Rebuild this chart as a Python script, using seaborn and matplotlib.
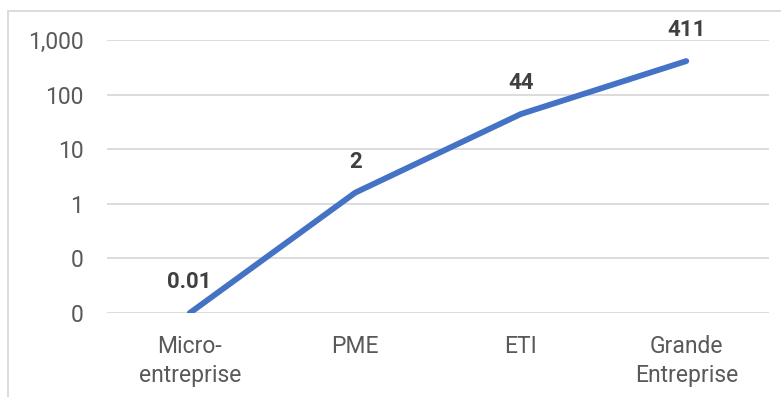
import matplotlib
matplotlib.use("Agg")
import matplotlib.pyplot as plt
import matplotlib.ticker as mticker
from matplotlib.patches import Rectangle
import seaborn as sns
import pandas as pd

categories = ["Micro-\nentreprise", "PME", "ETI", "Grande\nEntreprise"]
values = [0.01, 1.6, 44, 411]
value_labels = ["0.01", "2", "44", "411"]
y_ticks = [0.01, 0.1, 1, 10, 100, 1000]

sns.set_theme(style="white")
plt.rcParams["font.family"] = ["Roboto", "DejaVu Sans"]

df = pd.DataFrame({"cat": categories, "val": values})

fig = plt.figure(figsize=(7.81, 3.97), dpi=100)
ax = fig.add_axes([107 / 781, 1 - 313 / 397, (769 - 107) / 781, (313 - 40) / 397])

sns.lineplot(data=df, x="cat", y="val", ax=ax, sort=False, color="#4472C4",
             linewidth=4.2, solid_capstyle="round", solid_joinstyle="round")

ax.set_yscale("log")
ax.set_ylim(0.01, 1000)
ax.set_xlim(-0.5, len(categories) - 0.5)
ax.set_yticks(y_ticks)
ax.yaxis.set_major_formatter(mticker.FuncFormatter(lambda v, p: f"{v:,.0f}"))
ax.yaxis.set_minor_locator(mticker.NullLocator())
ax.grid(axis="y", color="#d9d9d9", linewidth=1.3)
ax.grid(axis="x", visible=False)
for s in ax.spines.values():
    s.set_visible(False)
ax.tick_params(axis="both", length=0, labelsize=16.5, colors="#595959")
ax.tick_params(axis="y", pad=17)
ax.tick_params(axis="x", pad=16)
for t in ax.get_xticklabels():
    t.set_linespacing(1.3)
ax.set_xlabel("")
ax.set_ylabel("")

for i, (v, lab) in enumerate(zip(values, value_labels)):
    ax.annotate(lab, (i, v), xytext=(0, 31 * 72 / 100), textcoords="offset points",
                ha="center", va="center", fontsize=16, fontweight="bold", color="#404040")

fig.patches.append(Rectangle((8 / 781, -0.1), 1.2, 0.1 + 1 - 11 / 397,
                             transform=fig.transFigure, fill=False,
                             edgecolor="#d9d9d9", linewidth=1.3))

fig.savefig("out.png", dpi=100, facecolor="white")
